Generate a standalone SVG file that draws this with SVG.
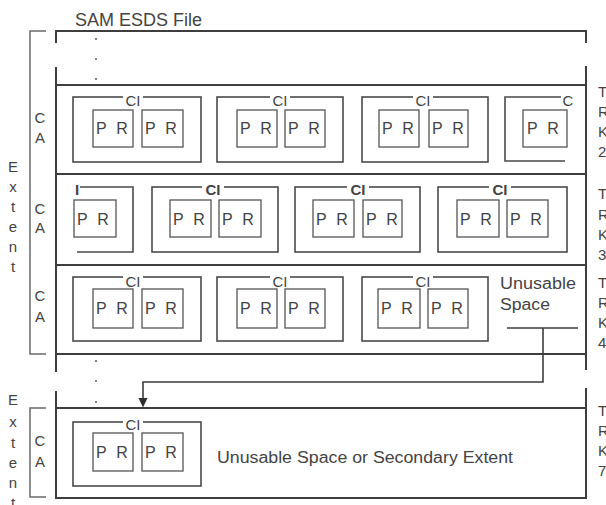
<svg xmlns="http://www.w3.org/2000/svg" width="606" height="505" viewBox="0 0 606 505">
<defs>
<style>
.trk{stroke:#3e3e3e;stroke-width:2;fill:none}
.br{stroke:#6a6a6a;stroke-width:1.5;fill:none}
.ci{stroke:#4a4a4a;stroke-width:1.6;fill:none}
.pr{stroke:#555;stroke-width:1.3;fill:#fff}
.bg{fill:#fff;stroke:none}
text{font-family:"Liberation Sans",Arial,Helvetica,sans-serif;fill:#444}
.lbl{font-size:15px;text-anchor:middle}
.bold{font-weight:bold}
.prt{font-size:16px;word-spacing:5.5px}
.side{font-size:15px}
.dot{fill:#555}
.con{stroke:#3e3e3e;stroke-width:1.6;fill:none}
</style>
<marker id="ah" markerUnits="userSpaceOnUse" markerWidth="10" markerHeight="10" refX="5" refY="9" orient="auto-start-reverse" viewBox="0 0 10 10">
<path d="M0.5,0 L9.5,0 L5,9 Z" fill="#2e2e2e" transform="rotate(-90 5 5)"/>
</marker>
</defs>
<rect width="606" height="505" fill="#fff"/>

<g id="title"><text x="75" y="26" font-size="18">SAM ESDS File</text></g>

<g id="extent1">
<path class="br" d="M46,31 H30 V354 H46"/>
<text class="lbl" x="13" y="172">E</text><text class="lbl" x="13" y="192">x</text><text class="lbl" x="13" y="212">t</text><text class="lbl" x="13" y="232">e</text><text class="lbl" x="13" y="252">n</text><text class="lbl" x="13" y="272">t</text>
</g>
<g id="extent2">
<path class="br" d="M46,408 H30 V497 H46"/>
<text class="lbl" x="13" y="405">E</text><text class="lbl" x="13" y="427">x</text><text class="lbl" x="13" y="448">t</text><text class="lbl" x="13" y="468">e</text><text class="lbl" x="13" y="488">n</text><text class="lbl" x="13" y="508">t</text>
</g>

<g id="file">
<path class="trk" d="M56,43 V31 H586 V43 M56,67 V372 M586,66 V370 M56,391 V498 H586 V388"/>
<circle class="dot" cx="96" cy="39" r="1"/><circle class="dot" cx="96" cy="59" r="1"/><circle class="dot" cx="96" cy="79" r="1"/>
<circle class="dot" cx="96" cy="361" r="1"/><circle class="dot" cx="96" cy="381" r="1"/><circle class="dot" cx="96" cy="402" r="1"/>
</g>

<g id="track2">
<line class="trk" x1="56" y1="85" x2="586" y2="85"/>
<text class="lbl" x="40" y="123">C</text><text class="lbl" x="40" y="143">A</text>
<text class="side" x="598" y="97">T</text><text class="side" x="598" y="117">R</text><text class="side" x="598" y="137">K</text><text class="side" x="598" y="157">2</text>
<g id="t2ci1"><rect class="ci" x="73" y="97" width="128" height="65"/><rect class="bg" x="123" y="92" width="20" height="10"/><text class="lbl" x="133" y="106">CI</text>
<rect class="pr" x="93" y="110" width="40" height="37"/><text class="prt" x="96" y="134">P R</text>
<rect class="pr" x="142" y="110" width="41" height="37"/><text class="prt" x="145" y="134">P R</text></g>
<g id="t2ci2"><rect class="ci" x="217" y="97" width="126" height="65"/><rect class="bg" x="270" y="92" width="20" height="10"/><text class="lbl" x="280" y="106">CI</text>
<rect class="pr" x="237" y="110" width="40" height="37"/><text class="prt" x="240" y="134">P R</text>
<rect class="pr" x="285" y="110" width="40" height="37"/><text class="prt" x="288" y="134">P R</text></g>
<g id="t2ci3"><rect class="ci" x="362" y="97" width="126" height="65"/><rect class="bg" x="413" y="92" width="20" height="10"/><text class="lbl" x="423" y="106">CI</text>
<rect class="pr" x="379" y="110" width="40" height="37"/><text class="prt" x="382" y="134">P R</text>
<rect class="pr" x="429" y="110" width="39" height="37"/><text class="prt" x="432" y="134">P R</text></g>
<g id="t2ci4"><path class="ci" d="M561,97 H505 V161 H565"/><text class="lbl" x="568" y="106">C</text>
<rect class="pr" x="523" y="110" width="44" height="37"/><text class="prt" x="527" y="134">P R</text></g>
</g>

<g id="track3">
<line class="trk" x1="56" y1="174" x2="586" y2="174"/>
<text class="lbl" x="40" y="214">C</text><text class="lbl" x="40" y="233">A</text>
<text class="side" x="598" y="199">T</text><text class="side" x="598" y="220">R</text><text class="side" x="598" y="240">K</text><text class="side" x="598" y="260">3</text>
<g id="t3ci1"><path class="ci" d="M80,187 H133 V252 H77"/><text class="lbl bold" x="77" y="195">I</text>
<rect class="pr" x="74" y="200" width="42" height="37"/><text class="prt" x="77" y="225">P R</text></g>
<g id="t3ci2"><rect class="ci" x="152" y="187" width="126" height="65"/><rect class="bg" x="202" y="182" width="22" height="10"/><text class="lbl bold" x="213" y="195">CI</text>
<rect class="pr" x="170" y="200" width="41" height="37"/><text class="prt" x="173" y="225">P R</text>
<rect class="pr" x="219" y="200" width="42" height="37"/><text class="prt" x="222" y="225">P R</text></g>
<g id="t3ci3"><rect class="ci" x="295" y="187" width="125" height="65"/><rect class="bg" x="347" y="182" width="22" height="10"/><text class="lbl bold" x="358" y="195">CI</text>
<rect class="pr" x="313" y="200" width="41" height="37"/><text class="prt" x="316" y="225">P R</text>
<rect class="pr" x="363" y="200" width="39" height="37"/><text class="prt" x="366" y="225">P R</text></g>
<g id="t3ci4"><rect class="ci" x="438" y="187" width="129" height="65"/><rect class="bg" x="489" y="182" width="22" height="10"/><text class="lbl bold" x="500" y="195">CI</text>
<rect class="pr" x="457" y="200" width="42" height="37"/><text class="prt" x="460" y="225">P R</text>
<rect class="pr" x="507" y="200" width="41" height="37"/><text class="prt" x="510" y="225">P R</text></g>
</g>

<g id="track4">
<line class="trk" x1="56" y1="265" x2="586" y2="265"/>
<line class="trk" x1="56" y1="354" x2="586" y2="354"/>
<text class="lbl" x="40" y="301">C</text><text class="lbl" x="40" y="322">A</text>
<text class="side" x="598" y="288">T</text><text class="side" x="598" y="308">R</text><text class="side" x="598" y="328">K</text><text class="side" x="598" y="348">4</text>
<g id="t4ci1"><rect class="ci" x="73" y="277" width="128" height="64"/><rect class="bg" x="123" y="272" width="20" height="10"/><text class="lbl" x="133" y="287">CI</text>
<rect class="pr" x="93" y="289" width="40" height="39"/><text class="prt" x="96" y="314">P R</text>
<rect class="pr" x="142" y="289" width="41" height="39"/><text class="prt" x="145" y="314">P R</text></g>
<g id="t4ci2"><rect class="ci" x="217" y="277" width="126" height="64"/><rect class="bg" x="270" y="272" width="20" height="10"/><text class="lbl" x="280" y="287">CI</text>
<rect class="pr" x="237" y="289" width="40" height="39"/><text class="prt" x="240" y="314">P R</text>
<rect class="pr" x="285" y="289" width="40" height="39"/><text class="prt" x="288" y="314">P R</text></g>
<g id="t4ci3"><rect class="ci" x="362" y="277" width="126" height="64"/><rect class="bg" x="413" y="272" width="20" height="10"/><text class="lbl" x="423" y="287">CI</text>
<rect class="pr" x="378" y="289" width="42" height="39"/><text class="prt" x="381" y="314">P R</text>
<rect class="pr" x="428" y="289" width="40" height="39"/><text class="prt" x="431" y="314">P R</text></g>
<g id="unusable"><text x="500" y="289" font-size="16" textLength="76" lengthAdjust="spacingAndGlyphs">Unusable</text><text x="500" y="310" font-size="16" textLength="50" lengthAdjust="spacingAndGlyphs">Space</text></g>
</g>

<g id="track7">
<line class="trk" x1="56" y1="408" x2="586" y2="408"/>
<text class="lbl" x="40" y="446">C</text><text class="lbl" x="40" y="467">A</text>
<text class="side" x="598" y="416">T</text><text class="side" x="598" y="436">R</text><text class="side" x="598" y="456">K</text><text class="side" x="598" y="476">7</text>
<g id="t7ci1"><rect class="ci" x="73" y="422" width="128" height="64"/><rect class="bg" x="123" y="417" width="20" height="10"/><text class="lbl" x="133" y="430">CI</text>
<rect class="pr" x="93" y="433" width="40" height="38"/><text class="prt" x="96" y="458">P R</text>
<rect class="pr" x="142" y="433" width="41" height="38"/><text class="prt" x="145" y="458">P R</text></g>
<g id="secondary"><text x="217" y="463" font-size="16" textLength="296" lengthAdjust="spacingAndGlyphs">Unusable Space or Secondary Extent</text></g>
</g>

<g id="connectors">
<line class="con" x1="507" y1="328" x2="578" y2="328"/>
<path class="con" d="M543,328 V382 H143 V398"/>
<path d="M138.5,398 H147.5 L143,407.5 Z" fill="#2e2e2e"/>
</g>
</svg>
